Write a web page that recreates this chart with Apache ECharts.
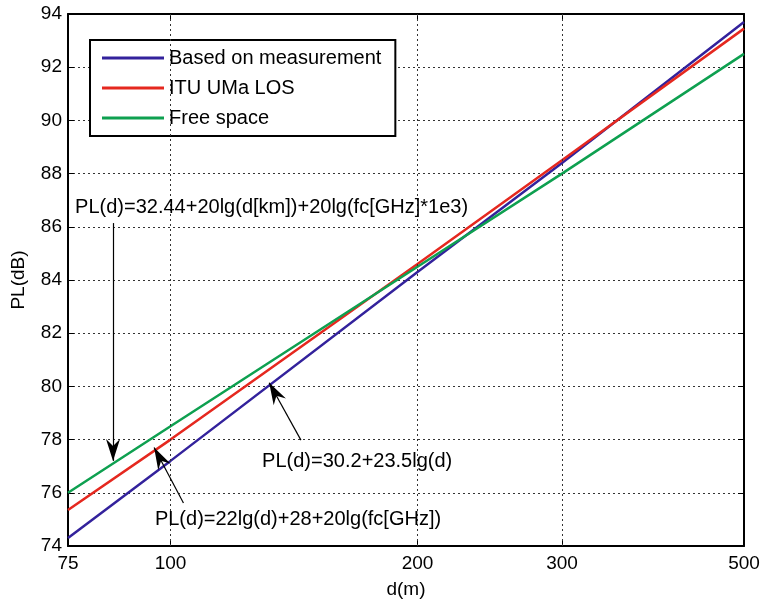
<!DOCTYPE html>
<html>
<head>
<meta charset="utf-8">
<script src="https://cdn.jsdelivr.net/npm/echarts@6/dist/echarts.min.js"></script>
<style>html,body{margin:0;padding:0;background:#fff;}#chart{width:767px;height:607px;}</style>
</head>
<body>
<div id="chart"></div>
<script>
// ---- data ----
const distances = [75, 100, 200, 300, 500];
const measured = [74.3, 77.2, 84.3, 88.4, 93.7];
const ituUmaLos = [75.35, 78.0, 84.6, 88.5, 93.45];
const freeSpace = [76.0, 78.5, 84.5, 88.0, 92.5];
const xTickValues = [75, 100, 200, 300, 500];
const xGridValues = [100, 200, 300];
const seriesNames = ['Based on measurement', 'ITU UMa LOS', 'Free space'];
const annotationTexts = [
  'PL(d)=32.44+20lg(d[km])+20lg(fc[GHz]*1e3)',
  'PL(d)=30.2+23.5lg(d)',
  'PL(d)=22lg(d)+28+20lg(fc[GHz])'
];

const FONT = 'Liberation Sans, Arial, Helvetica, sans-serif';
const pairs = (ys) => distances.map((x, i) => [x, ys[i]]);
const ARROW = 'path://M7,0 L14,22 L7,15 L0,22 Z';
const arrow = (from, to) => [
  { coord: from, symbol: 'none', symbolSize: 1 },
  { coord: to, symbol: ARROW, symbolSize: [14, 22], symbolOffset: [0, 11] }
];

const chart = echarts.init(document.getElementById('chart'));
chart.setOption({
  animation: false,
  backgroundColor: '#fff',
  textStyle: { fontFamily: FONT },
  grid: { left: 68, right: 23, top: 14, bottom: 61, containLabel: false },
  legend: {
    orient: 'vertical', left: 90, top: 40,
    padding: [8, 14, 8, 12],
    itemWidth: 62, itemHeight: 3, itemGap: 10, icon: 'rect',
    backgroundColor: '#fff', borderColor: '#000', borderWidth: 2,
    textStyle: { fontSize: 20, color: '#000', fontFamily: FONT, lineHeight: 20 },
    data: seriesNames
  },
  xAxis: [{
    type: 'log', logBase: 10, min: 75, max: 500,
    name: 'd(m)', nameLocation: 'middle', nameGap: 34,
    nameTextStyle: { fontSize: 19, color: '#000', fontFamily: FONT },
    axisLine: { show: true, lineStyle: { color: '#000', width: 2 } },
    axisTick: { show: true, inside: true, length: 6, customValues: xTickValues, lineStyle: { color: '#000', width: 1 } },
    axisLabel: { show: true, customValues: xTickValues, fontSize: 19, color: '#000', margin: 8, fontFamily: FONT,
      formatter: (v) => String(Math.round(v)) },
    splitLine: { show: false }
  }, {
    type: 'log', logBase: 10, min: 75, max: 500, position: 'top',
    axisLine: { show: true, onZero: false, lineStyle: { color: '#000', width: 2 } },
    axisTick: { show: true, inside: true, length: 6, customValues: xGridValues, lineStyle: { color: '#000', width: 1 } },
    axisLabel: { show: false },
    splitLine: { show: false }
  }],
  yAxis: [{
    type: 'value', min: 74, max: 94, interval: 2,
    name: 'PL(dB)', nameLocation: 'middle', nameGap: 40,
    nameTextStyle: { fontSize: 19, color: '#000', fontFamily: FONT },
    axisLine: { show: true, onZero: false, lineStyle: { color: '#000', width: 2 } },
    axisTick: { show: true, inside: true, length: 6, lineStyle: { color: '#000', width: 1 } },
    axisLabel: { fontSize: 19, color: '#000', margin: 6, fontFamily: FONT },
    splitLine: { show: true, lineStyle: { color: '#333', width: 1, type: [2, 3] } }
  }, {
    type: 'value', min: 74, max: 94, interval: 2, position: 'right',
    axisLine: { show: true, onZero: false, lineStyle: { color: '#000', width: 2 } },
    axisTick: { show: true, inside: true, length: 6, lineStyle: { color: '#000', width: 1 } },
    axisLabel: { show: false },
    splitLine: { show: false }
  }],
  series: [
    {
      name: seriesNames[0], type: 'line', data: pairs(measured), showSymbol: false,
      color: '#33229c', lineStyle: { width: 2.5, color: '#33229c' }, z: 3,
      markLine: {
        silent: true, symbol: ['none', 'none'], label: { show: false },
        lineStyle: { color: '#333', width: 1, type: [2, 3] },
        data: xGridValues.map(v => ({ xAxis: v }))
      }
    },
    {
      name: seriesNames[1], type: 'line', data: pairs(ituUmaLos), showSymbol: false,
      color: '#e5281f', lineStyle: { width: 2.5, color: '#e5281f' }, z: 3
    },
    {
      name: seriesNames[2], type: 'line', data: pairs(freeSpace), showSymbol: false,
      color: '#0ea050', lineStyle: { width: 2.5, color: '#0ea050' }, z: 3
    },
    {
      name: 'annotations', type: 'line', data: [], z: 5, silent: true,
      markLine: {
        silent: true, symbol: ['none', ARROW], symbolSize: 22,
        label: { show: false },
        lineStyle: { color: '#000', width: 1.2, type: 'solid' },
        itemStyle: { color: '#000' },
        data: [
          arrow([85.1, 86.14], [85.1, 77.2]),
          arrow([144.2, 77.98], [131.9, 80.14]),
          arrow([103.7, 75.62], [95.5, 77.7])
        ]
      },
      markPoint: {
        silent: true, symbol: 'circle', symbolSize: 0.1,
        itemStyle: { color: 'transparent' },
        label: { show: true, position: 'right', distance: 0, fontSize: 20, color: '#000', fontFamily: FONT },
        data: [
          { coord: [76.5, 86.74], label: { formatter: annotationTexts[0] } },
          { coord: [129.3, 77.16], label: { formatter: annotationTexts[1] } },
          { coord: [95.7, 75.0], label: { formatter: annotationTexts[2] } }
        ]
      }
    }
  ]
});
</script>
</body>
</html>
